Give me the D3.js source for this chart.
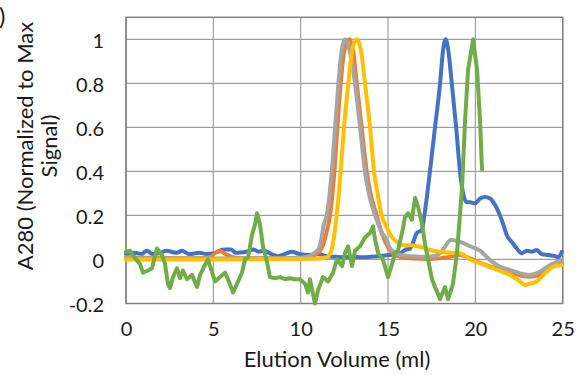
<!DOCTYPE html>
<html>
<head>
<meta charset="utf-8">
<script src="https://cdn.jsdelivr.net/npm/d3@7"></script>
<style>
  body { margin: 0; background: #fff; }
  svg { font-family: Lato, "Open Sans", sans-serif; }
</style>
</head>
<body>
<div id="chart"></div>
<script>
const width = 580;
const height = 375;

const xTicks = [0, 5, 10, 15, 20, 25];
const yTicks = [-0.2, 0, 0.2, 0.4, 0.6, 0.8, 1];

// [elution volume (ml), normalized A280]
const blue = [[0,0.025],[0.5,0.03],[0.9,0.025],[1.2,0.04],[1.5,0.025],[2.0,0.03],[2.3,0.04],[2.9,0.03],[3.2,0.04],[3.6,0.025],[4.2,0.03],[4.6,0.025],[5.1,0.03],[5.6,0.045],[6.0,0.045],[6.3,0.03],[6.9,0.035],[7.3,0.045],[7.6,0.035],[7.9,0.04],[8.3,0.025],[8.7,0.015],[9.1,0.025],[9.5,0.035],[9.9,0.025],[10.5,0.02],[11.0,0.025],[11.5,0.015],[12.0,0.012],[12.5,0.01],[13.0,0.012],[13.5,0.01],[14.0,0.012],[14.5,0.015],[15.0,0.02],[15.69,0.028],[15.97,0.043],[16.26,0.05],[16.45,0.08],[16.64,0.12],[16.93,0.133],[17.08,0.2],[17.4,0.4],[17.69,0.6],[17.98,0.8],[18.15,0.95],[18.3,1.0],[18.45,0.95],[18.65,0.8],[18.9,0.6],[19.12,0.4],[19.3,0.3],[19.5,0.26],[19.7,0.26],[19.98,0.255],[20.27,0.277],[20.55,0.284],[20.84,0.277],[21.13,0.247],[21.41,0.2],[21.58,0.164],[21.8,0.11],[22.08,0.08],[22.37,0.05],[22.65,0.028],[22.94,0.04],[23.23,0.035],[23.51,0.043],[23.8,0.024],[24.18,0.02],[24.56,0.015],[24.75,0.01],[24.95,0.035]];

const orange = [[0,0.01],[1,0.008],[2,0.008],[3,0.006],[4,0.006],[4.8,0.008],[5.1,0.03],[5.4,0.037],[5.8,0.02],[6.3,0.008],[7,0.006],[8,0.006],[9,0.006],[10,0.008],[10.5,0.012],[11.0,0.03],[11.3,0.07],[11.5,0.13],[11.68,0.2],[11.93,0.4],[12.1,0.6],[12.29,0.8],[12.5,0.95],[12.79,1.0],[13.0,0.95],[13.21,0.8],[13.49,0.6],[13.78,0.4],[14.0,0.3],[14.35,0.2],[14.6,0.13],[14.9,0.07],[15.12,0.04],[15.4,0.02],[15.69,0.012],[16.26,0.005],[17.4,0.002],[18.55,0.012],[19.12,0.02],[19.7,0.005],[20.27,-0.015],[20.84,-0.032],[21.41,-0.045],[21.99,-0.06],[22.56,-0.072],[23.02,-0.078],[23.51,-0.074],[23.99,-0.05],[24.46,-0.028],[24.95,-0.018]];

const gray = [[0,0.005],[2,0.005],[4,0.004],[6,0.005],[8,0.005],[10,0.008],[10.5,0.015],[10.8,0.03],[11.05,0.05],[11.2,0.1],[11.3,0.15],[11.49,0.2],[11.78,0.4],[11.97,0.6],[12.16,0.8],[12.35,0.95],[12.54,1.0],[12.8,0.95],[13.11,0.8],[13.4,0.6],[13.68,0.4],[13.9,0.3],[14.26,0.2],[14.6,0.13],[14.9,0.09],[15.12,0.05],[15.69,0.02],[16.26,0.015],[17.4,0.012],[17.97,0.028],[18.26,0.058],[18.6,0.088],[19.12,0.08],[19.7,0.06],[20.27,0.04],[20.84,-0.003],[21.41,-0.033],[21.99,-0.048],[22.56,-0.063],[23.02,-0.07],[23.51,-0.063],[23.99,-0.04],[24.46,-0.018],[24.95,-0.003]];

const yellow = [[0,0.0],[5,0.0],[10,0.002],[11,0.004],[11.5,0.01],[11.75,0.04],[11.9,0.1],[12.06,0.2],[12.29,0.4],[12.48,0.6],[12.73,0.8],[12.95,0.95],[13.21,1.0],[13.45,0.95],[13.68,0.8],[13.97,0.6],[14.2,0.4],[14.4,0.3],[14.64,0.2],[14.9,0.15],[15.15,0.11],[15.59,0.075],[15.9,0.065],[16.26,0.065],[16.83,0.058],[17.4,0.043],[17.97,0.035],[18.55,0.03],[19.12,0.028],[19.7,0.0],[20.27,-0.018],[20.84,-0.035],[21.41,-0.052],[21.99,-0.07],[22.56,-0.1],[22.85,-0.116],[23.14,-0.11],[23.51,-0.1],[23.99,-0.063],[24.46,-0.033],[24.95,-0.025]];

const green = [[0,0.035],[0.23,0.04],[0.52,0.005],[0.8,-0.02],[0.97,-0.06],[1.26,-0.05],[1.49,-0.04],[1.77,0.05],[2.06,0.02],[2.23,-0.02],[2.4,-0.11],[2.52,-0.13],[2.69,-0.08],[2.92,-0.04],[3.09,-0.085],[3.26,-0.05],[3.49,-0.09],[3.78,-0.07],[4.07,-0.125],[4.24,-0.07],[4.52,-0.025],[4.69,0.0],[4.81,-0.03],[5.1,-0.1],[5.38,-0.08],[5.67,-0.06],[5.84,-0.09],[6.13,-0.15],[6.36,-0.11],[6.64,-0.06],[6.81,0.0],[6.99,0.01],[7.21,0.11],[7.39,0.16],[7.5,0.21],[7.67,0.16],[7.84,0.06],[8.07,-0.01],[8.24,-0.08],[8.53,-0.085],[8.82,-0.08],[9.1,-0.09],[9.39,-0.085],[9.68,-0.09],[9.96,-0.09],[10.25,-0.11],[10.42,-0.15],[10.53,-0.09],[10.82,-0.2],[10.99,-0.14],[11.28,-0.08],[11.57,-0.1],[11.85,-0.06],[12.08,0.0],[12.37,-0.03],[12.54,0.03],[12.71,0.06],[12.94,-0.03],[13.11,0.04],[13.4,0.06],[13.68,0.1],[13.97,0.12],[14.14,0.15],[14.26,0.09],[14.43,0.03],[14.71,0.0],[15.0,-0.08],[15.23,-0.02],[15.4,0.03],[15.57,0.04],[15.8,0.12],[15.97,0.19],[16.15,0.21],[16.37,0.18],[16.55,0.28],[16.72,0.24],[16.95,0.16],[17.12,0.07],[17.29,0.0],[17.52,-0.09],[17.69,-0.125],[17.98,-0.18],[18.26,-0.125],[18.44,-0.18],[18.72,-0.11],[18.95,0.03],[19.24,0.33],[19.41,0.63],[19.58,0.86],[19.87,1.0],[20.1,0.86],[20.27,0.63],[20.38,0.41]];

const series = [
  {name: "blue", color: "#4472C4", values: blue, smooth: true},
  {name: "orange", color: "#ED7D31", values: orange, smooth: true},
  {name: "gray", color: "#A5A5A5", values: gray, smooth: true},
  {name: "yellow", color: "#FFC000", values: yellow, smooth: true},
  {name: "green", color: "#70AD47", values: green, smooth: false}
];

const margin = {top: 17.3, right: 17.3, bottom: 71.5, left: 126};

const x = d3.scaleLinear().domain([0, 25]).range([margin.left, width - margin.right]);
const y = d3.scaleLinear().domain([-0.2, 1.1]).range([height - margin.bottom, margin.top]);

const svg = d3.select("#chart").append("svg")
    .attr("width", width)
    .attr("height", height);

// gridlines
svg.append("g")
  .selectAll("line")
  .data(yTicks)
  .join("line")
    .attr("x1", x(0))
    .attr("x2", x(25))
    .attr("y1", d => y(d))
    .attr("y2", d => y(d))
    .attr("stroke", "#a0a0a0")
    .attr("stroke-width", 1.2);

svg.append("g")
  .selectAll("line")
  .data(xTicks)
  .join("line")
    .attr("x1", d => x(d))
    .attr("x2", d => x(d))
    .attr("y1", y(-0.2))
    .attr("y2", y(1.1))
    .attr("stroke", "#a0a0a0")
    .attr("stroke-width", 1.2);

// plot frame
svg.append("rect")
    .attr("x", x(0))
    .attr("y", y(1.1))
    .attr("width", x(25) - x(0))
    .attr("height", y(-0.2) - y(1.1))
    .attr("fill", "none")
    .attr("stroke", "#808080")
    .attr("stroke-width", 1.5);

const yAxis = d3.axisLeft(y).tickValues(yTicks).tickSize(0).tickPadding(22)
    .tickFormat(d => String(+d.toFixed(1)));
svg.append("g")
    .attr("transform", `translate(${x(0)},0)`)
    .call(yAxis)
    .call(g => g.select(".domain").remove())
    .call(g => g.selectAll("text")
        .attr("font-family", "Lato, sans-serif")
        .attr("font-size", 20)
        .attr("fill", "#1a1a1a")
        .attr("dy", "0.42em"));

const xAxis = d3.axisBottom(x).tickValues(xTicks).tickSize(0).tickPadding(18);
svg.append("g")
    .attr("transform", `translate(0,${y(-0.2)})`)
    .call(xAxis)
    .call(g => g.select(".domain").remove())
    .call(g => g.selectAll("text")
        .attr("font-family", "Lato, sans-serif")
        .attr("font-size", 20)
        .attr("fill", "#1a1a1a"));

const smoothLine = d3.line()
    .curve(d3.curveMonotoneX)
    .x(d => x(d[0]))
    .y(d => y(d[1]));

const rawLine = d3.line()
    .x(d => x(d[0]))
    .y(d => y(d[1]));

svg.append("g")
    .attr("fill", "none")
    .attr("stroke-width", 4)
    .attr("stroke-linejoin", "round")
    .attr("stroke-linecap", "round")
  .selectAll("path")
  .data(series)
  .join("path")
    .attr("stroke", d => d.color)
    .attr("d", d => (d.smooth ? smoothLine : rawLine)(d.values));

// axis titles
svg.append("text")
    .attr("x", 337)
    .attr("y", 367)
    .attr("text-anchor", "middle")
    .attr("font-size", 22)
    .attr("fill", "#1a1a1a")
    .text("Elution Volume (ml)");

svg.append("text")
    .attr("transform", "translate(33,146) rotate(-90)")
    .attr("text-anchor", "middle")
    .attr("font-size", 22)
    .attr("fill", "#1a1a1a")
    .text("A280 (Normalized to Max");

svg.append("text")
    .attr("transform", "translate(57,146) rotate(-90)")
    .attr("text-anchor", "middle")
    .attr("font-size", 22)
    .attr("fill", "#1a1a1a")
    .text("Signal)");

// leftover of the panel label
svg.append("text")
    .attr("x", -1)
    .attr("y", 25)
    .attr("font-size", 24)
    .attr("fill", "#1a1a1a")
    .text(")");
</script>
</body>
</html>
